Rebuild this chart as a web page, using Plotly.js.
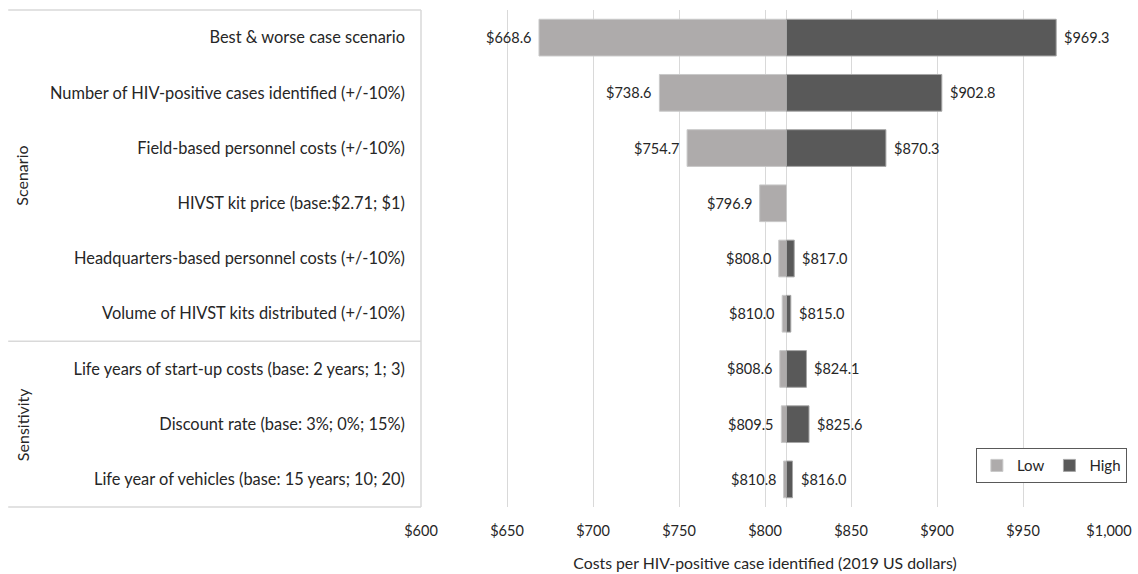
<!DOCTYPE html>
<html>
<head>
<meta charset="utf-8">
<script src="https://cdn.plot.ly/plotly-3.0.1.min.js"></script>
<style>html,body{margin:0;padding:0;background:#fff;}#chart{width:1138px;height:574px;}</style>
</head>
<body>
<div id="chart"></div>
<script>
// ---- data ----
const categories = [
  "Best & worse case scenario",
  "Number of HIV-positive cases identified (+/-10%)",
  "Field-based personnel costs (+/-10%)",
  "HIVST kit price (base:$2.71; $1)",
  "Headquarters-based personnel costs (+/-10%)",
  "Volume of HIVST kits distributed (+/-10%)",
  "Life years of start-up costs (base: 2 years; 1; 3)",
  "Discount rate (base: 3%; 0%; 15%)",
  "Life year of vehicles (base: 15 years; 10; 20)"
];
const baseValue = 812.5;
const lowValues  = [668.6, 738.6, 754.7, 796.9, 808.0, 810.0, 808.6, 809.5, 810.8];
const highValues = [969.3, 902.8, 870.3, null, 817.0, 815.0, 824.1, 825.6, 816.0];
const groupNames = ["Scenario", "Sensitivity"];
const groupSizes = [6, 3];
const tickVals = [600, 650, 700, 750, 800, 850, 900, 950, 1000];
const tickText = ["$600", "$650", "$700", "$750", "$800", "$850", "$900", "$950", "$1,000"];

const FONT = "Lato, 'Open Sans', sans-serif";
const TXT = "#262626";

const lowTrace = {
  type: "bar", orientation: "h", name: "Low",
  y: categories,
  x: lowValues.map(v => v - baseValue),
  base: baseValue,
  width: 0.665,
  marker: {color: "#AEABAB", line: {color: "#C9C9C9", width: 1}},
  hoverinfo: "skip"
};
const highTrace = {
  type: "bar", orientation: "h", name: "High",
  y: categories,
  x: highValues.map(v => v === null ? null : v - baseValue),
  base: baseValue,
  width: 0.665,
  marker: {color: "#595959", line: {color: "#A6A6A6", width: 1}},
  hoverinfo: "skip"
};

const annotations = [];
categories.forEach((c, i) => {
  annotations.push({x: lowValues[i], y: c, xref: "x", yref: "y", text: "$" + lowValues[i].toFixed(1),
    showarrow: false, xanchor: "right", xshift: -6, font: {family: FONT, size: 14.5, color: TXT}});
  if (highValues[i] !== null) {
    annotations.push({x: highValues[i], y: c, xref: "x", yref: "y", text: "$" + highValues[i].toFixed(1),
      showarrow: false, xanchor: "left", xshift: 6, font: {family: FONT, size: 14.5, color: TXT}});
  }
});

// group labels and separators
const shapes = [];
const boxX0 = -0.6;
let start = 0;
groupNames.forEach((g, gi) => {
  const end = start + groupSizes[gi];
  const mid = (start - 0.5 + end - 0.5) / 2;
  annotations.push({x: boxX0 + 0.02, y: mid, xref: "paper", yref: "y", text: g, textangle: -90,
    showarrow: false, xanchor: "center", yanchor: "middle", font: {family: FONT, size: 16, color: TXT}});
  if (gi < groupNames.length - 1) {
    shapes.push({type: "line", xref: "paper", yref: "y", x0: boxX0, x1: 0, y0: end - 0.5, y1: end - 0.5,
      line: {color: "#D9D9D9", width: 1.5}});
  }
  start = end;
});
// label box: top, bottom, right
shapes.push({type: "line", xref: "paper", yref: "paper", x0: boxX0, x1: 0, y0: 1, y1: 1, line: {color: "#D9D9D9", width: 1.5}});
shapes.push({type: "line", xref: "paper", yref: "paper", x0: boxX0, x1: 0, y0: 0, y1: 0, line: {color: "#D9D9D9", width: 1.5}});
shapes.push({type: "line", xref: "paper", yref: "paper", x0: 0, x1: 0, y0: 0, y1: 1, line: {color: "#D9D9D9", width: 1.5}});
// base line
shapes.push({type: "line", xref: "x", yref: "paper", x0: baseValue, x1: baseValue, y0: 0, y1: 1, line: {color: "#D9D9D9", width: 1}, layer: "below"});

const layout = {
  width: 1138, height: 574,
  margin: {l: 421, r: 29, t: 10, b: 67},
  paper_bgcolor: "#fff", plot_bgcolor: "#fff",
  barmode: "overlay",
  font: {family: FONT, size: 14, color: TXT},
  xaxis: {
    range: [600, 1000], tickvals: tickVals, ticktext: tickText,
    showgrid: true, gridcolor: "#D9D9D9", gridwidth: 1, zeroline: false, showline: false,
    ticks: "", ticklabelstandoff: 13,
    tickfont: {family: FONT, size: 14.5, color: TXT},
    title: {text: "Costs per HIV-positive case identified (2019 US dollars)", font: {family: FONT, size: 15.8, color: TXT}, standoff: 20},
    automargin: false, fixedrange: true
  },
  yaxis: {
    type: "category", autorange: "reversed", showgrid: false, zeroline: false, showline: false,
    ticks: "", ticklabelstandoff: 15,
    tickfont: {family: FONT, size: 16.4, color: TXT},
    automargin: false, fixedrange: true
  },
  showlegend: true,
  legend: {orientation: "h", x: 1.026, xanchor: "right", y: 0.048, yanchor: "bottom",
    bordercolor: "#595959", borderwidth: 1, bgcolor: "#fff",
    font: {family: FONT, size: 15, color: TXT}, traceorder: "normal", itemwidth: 30},
  annotations: annotations,
  shapes: shapes
};

Plotly.newPlot("chart", [lowTrace, highTrace], layout, {displayModeBar: false, staticPlot: true});
</script>
</body>
</html>
